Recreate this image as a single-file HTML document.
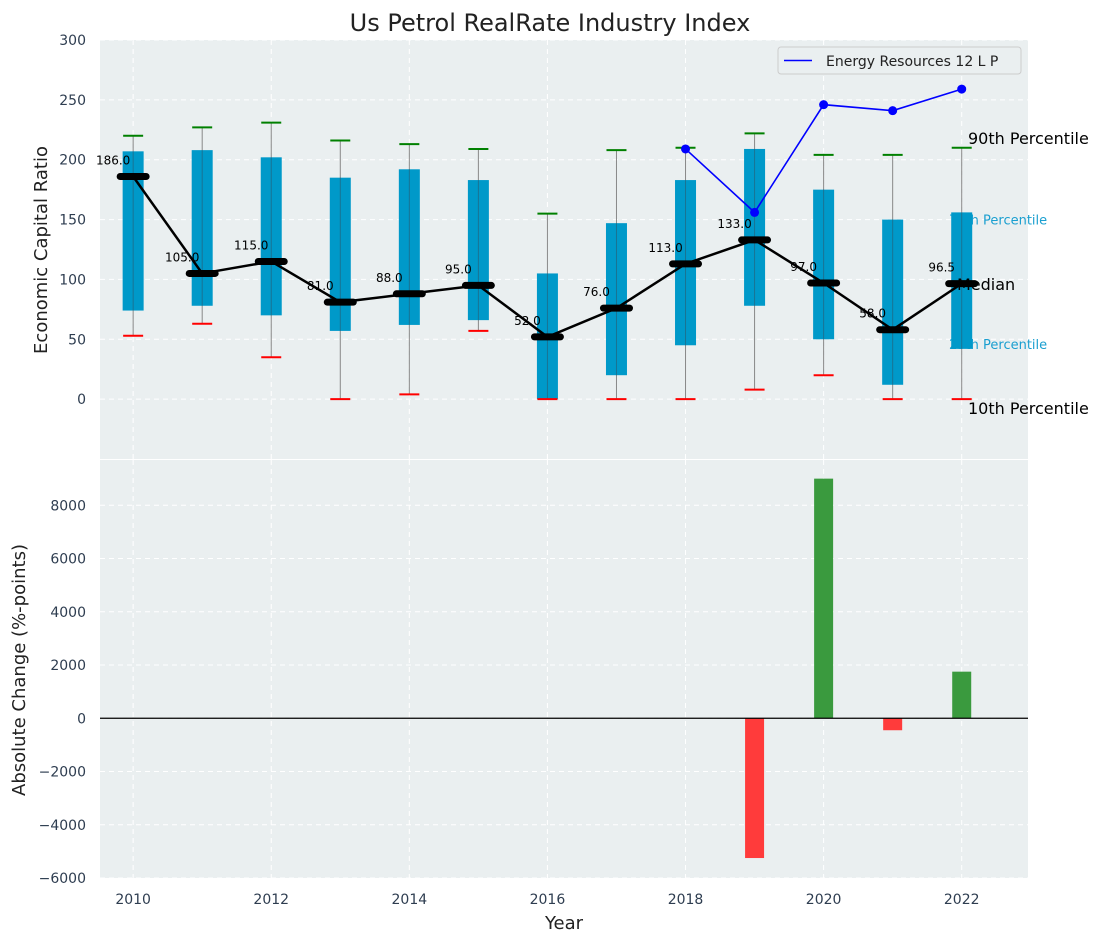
<!DOCTYPE html>
<html><head><meta charset="utf-8"><style>
body{margin:0;background:#fff;}
svg{display:block;font-family:"DejaVu Sans","Liberation Sans",sans-serif;}
</style></head><body>
<svg id="c" width="1103" height="942"></svg>
<script>
const years=[2010,2011,2012,2013,2014,2015,2016,2017,2018,2019,2020,2021,2022];
const q25=[74,78,70,57,62,66,0,20,45,78,50,12,42];
const q75=[207,208,202,185,192,183,105,147,183,209,175,150,156];
const p10=[53,63,35,0,4,57,0,0,0,8,20,0,0];
const p90=[220,227,231,216,213,209,155,208,210,222,204,204,210];
const medians=[186,105,115,81,88,95,52,76,113,133,97,58,96.5];
const medianLabels=["186.0","105.0","115.0","81.0","88.0","95.0","52.0","76.0","113.0","133.0","97.0","58.0","96.5"];
const energyYears=[2018,2019,2020,2021,2022];
const energyVals=[209,156,246,241,259];
const changeYears=[2019,2020,2021,2022];
const changeVals=[-5250,9000,-450,1750];
const topTicks=[0,50,100,150,200,250,300];
const botTicks=[-6000,-4000,-2000,0,2000,4000,6000,8000];
const xTicks=[2010,2012,2014,2016,2018,2020,2022];

const NS="http://www.w3.org/2000/svg";
const svg=document.getElementById('c');
function mk(tag,attrs,parent,text){const e=document.createElementNS(NS,tag);for(const k in attrs)e.setAttribute(k,attrs[k]);if(text!==undefined)e.textContent=text;(parent||svg).appendChild(e);return e;}
const L=100,R=1028;
const X=v=>L+(v-2009.52)/(2022.96-2009.52)*(R-L);
const T0=40,T1=459;
const Yt=v=>T0+(300-v)/(350)*(T1-T0);
const B0=460,B1=878;
const Yb=v=>B1-(v+6000)/(15700)*(B1-B0);

let e;
e=mk('rect',{x:L,y:T0,width:R-L,height:T1-T0,fill:'#eaeff0'});

e=mk('rect',{x:L,y:B0,width:R-L,height:B1-B0,fill:'#eaeff0'});

xTicks.forEach(v=>{
 mk('line',{x1:X(v),x2:X(v),y1:T0,y2:T1,stroke:'#fff','stroke-dasharray':'5,4','stroke-width':1});
 mk('line',{x1:X(v),x2:X(v),y1:B0,y2:B1,stroke:'#fff','stroke-dasharray':'5,4','stroke-width':1});
});
topTicks.forEach(v=>{
 mk('line',{x1:L,x2:R,y1:Yt(v),y2:Yt(v),stroke:'#fff','stroke-dasharray':'5,4'});
 e=mk('text',{x:L-14,y:Yt(v)+5,'text-anchor':'end','font-size':14,fill:'#2e3d50'},svg,String(v));
 
});
botTicks.forEach(v=>{
 mk('line',{x1:L,x2:R,y1:Yb(v),y2:Yb(v),stroke:'#fff','stroke-dasharray':'5,4'});
 e=mk('text',{x:L-14,y:Yb(v)+5,'text-anchor':'end','font-size':14,fill:'#2e3d50'},svg,v<0?'\u2212'+(-v):String(v));
 
});
xTicks.forEach(v=>{
 e=mk('text',{x:X(v),y:904,'text-anchor':'middle','font-size':14,fill:'#2e3d50'},svg,String(v));
 
});
e=mk('text',{x:949,y:Yt(150)+5,'font-size':13,fill:'#1a9fd0'},svg,'75th Percentile');

e=mk('text',{x:949,y:Yt(46)+5,'font-size':13,fill:'#1a9fd0'},svg,'25th Percentile');

years.forEach((yr,i)=>{
 const x=X(yr);
 e=mk('line',{x1:x,x2:x,y1:Yt(p90[i]),y2:Yt(p10[i]),stroke:'#888','stroke-width':1});
 
 e=mk('rect',{x:x-10.5,y:Yt(q75[i]),width:21,height:Yt(q25[i])-Yt(q75[i]),fill:'#0099c9'});
 
 mk('line',{x1:x,x2:x,y1:Yt(q75[i]),y2:Yt(q25[i]),stroke:'#2a5a70','stroke-width':1,opacity:0.6});
 e=mk('line',{x1:x-10,x2:x+10,y1:Yt(p90[i]),y2:Yt(p90[i]),stroke:'green','stroke-width':2});
 
 e=mk('line',{x1:x-10,x2:x+10,y1:Yt(p10[i]),y2:Yt(p10[i]),stroke:'red','stroke-width':2});
 
});
e=mk('polyline',{points:years.map((y,i)=>X(y)+','+Yt(medians[i])).join(' '),fill:'none',stroke:'#000','stroke-width':2.5});

years.forEach((yr,i)=>{
 e=mk('line',{x1:X(yr)-13,x2:X(yr)+13,y1:Yt(medians[i]),y2:Yt(medians[i]),stroke:'#000','stroke-width':7,'stroke-linecap':'round'});
 
 e=mk('text',{x:X(yr)-20,y:Yt(medians[i])-12,'text-anchor':'middle','font-size':12,fill:'#000'},svg,medianLabels[i]);
 
});
e=mk('polyline',{points:energyYears.map((y,i)=>X(y)+','+Yt(energyVals[i])).join(' '),fill:'none',stroke:'#0000ff','stroke-width':1.6});

energyYears.forEach((y,i)=>{
 e=mk('circle',{cx:X(y),cy:Yt(energyVals[i]),r:4.5,fill:'#0000ff'});
 
});
[['90th Percentile',144,968,'p90-annotation'],['Median',290,957,'median-annotation'],['10th Percentile',414,968,'p10-annotation']].forEach(a=>{
 e=mk('text',{x:a[2],y:a[1],'font-size':16,fill:'#000'},svg,a[0]);
 
});
const lg=mk('g',{});

mk('rect',{x:778,y:47,width:243,height:27,rx:3,fill:'#eaeff0',stroke:'#ccc'},lg);
mk('line',{x1:784,x2:812,y1:60.5,y2:60.5,stroke:'#0000ff','stroke-width':1.6},lg);
mk('text',{x:826,y:66,'font-size':14,fill:'#222'},lg,'Energy Resources 12 L P');
changeYears.forEach((y,i)=>{
 const v=changeVals[i];
 e=mk('rect',{x:X(y)-9.5,y:Math.min(Yb(v),Yb(0)),width:19,height:Math.abs(Yb(v)-Yb(0)),fill:v>=0?'#3a9a3e':'#ff3b3b'});
 
});
e=mk('line',{x1:L,x2:R,y1:Yb(0),y2:Yb(0),stroke:'#000','stroke-width':1.2});

e=mk('text',{x:550,y:31,'text-anchor':'middle','font-size':24,fill:'#222'},svg,'Us Petrol RealRate Industry Index');

e=mk('text',{x:0,y:0,transform:'translate(47,250) rotate(-90)','text-anchor':'middle','font-size':18,fill:'#222'},svg,'Economic Capital Ratio');

e=mk('text',{x:0,y:0,transform:'translate(25,670) rotate(-90)','text-anchor':'middle','font-size':18,fill:'#222'},svg,'Absolute Change (%-points)');

e=mk('text',{x:564,y:929,'text-anchor':'middle','font-size':18,fill:'#222'},svg,'Year');

</script>
</body></html>
